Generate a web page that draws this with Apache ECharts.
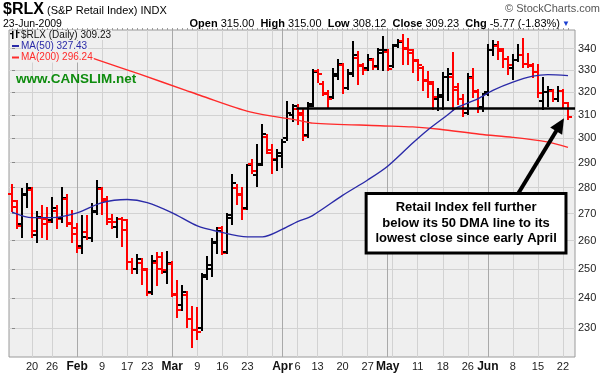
<!DOCTYPE html>
<html><head><meta charset="utf-8">
<script src="https://cdn.jsdelivr.net/npm/echarts@6/dist/echarts.min.js"></script>
<style>html,body{margin:0;padding:0;background:#fff}#c{width:605px;height:375px}</style>
</head><body><div id="c"></div><script>
// ---------- DATA ----------
const dates = [
 '2009-01-13','2009-01-14','2009-01-15','2009-01-16','2009-01-20','2009-01-21','2009-01-22','2009-01-23','2009-01-26','2009-01-27',
 '2009-01-28','2009-01-29','2009-01-30','2009-02-02','2009-02-03','2009-02-04','2009-02-05','2009-02-06','2009-02-09','2009-02-10',
 '2009-02-11','2009-02-12','2009-02-13','2009-02-17','2009-02-18','2009-02-19','2009-02-20','2009-02-23','2009-02-24','2009-02-25',
 '2009-02-26','2009-02-27','2009-03-02','2009-03-03','2009-03-04','2009-03-05','2009-03-06','2009-03-09','2009-03-10','2009-03-11',
 '2009-03-12','2009-03-13','2009-03-16','2009-03-17','2009-03-18','2009-03-19','2009-03-20','2009-03-23','2009-03-24','2009-03-25',
 '2009-03-26','2009-03-27','2009-03-30','2009-03-31','2009-04-01','2009-04-02','2009-04-03','2009-04-06','2009-04-07','2009-04-08',
 '2009-04-09','2009-04-13','2009-04-14','2009-04-15','2009-04-16','2009-04-17','2009-04-20','2009-04-21','2009-04-22','2009-04-23',
 '2009-04-24','2009-04-27','2009-04-28','2009-04-29','2009-04-30','2009-05-01','2009-05-04','2009-05-05','2009-05-06','2009-05-07',
 '2009-05-08','2009-05-11','2009-05-12','2009-05-13','2009-05-14','2009-05-15','2009-05-18','2009-05-19','2009-05-20','2009-05-21',
 '2009-05-22','2009-05-26','2009-05-27','2009-05-28','2009-05-29','2009-06-01','2009-06-02','2009-06-03','2009-06-04','2009-06-05',
 '2009-06-08','2009-06-09','2009-06-10','2009-06-11','2009-06-12','2009-06-15','2009-06-16','2009-06-17','2009-06-18','2009-06-19',
 '2009-06-22','2009-06-23'
];
const opens = [
 277.6,272.5,266.0,277.0,279.0,262.0,268.5,266.0,267.5,271.0,
 268.5,275.5,266.5,262.5,258.0,263.0,261.0,271.0,279.5,275.0,
 267.0,265.0,268.0,264.0,252.5,250.0,252.0,249.5,242.0,252.0,
 254.0,249.0,251.5,241.0,237.5,241.0,233.0,229.5,230.0,248.0,
 250.0,259.0,264.5,256.0,268.5,280.0,277.0,272.0,289.5,285.0,
 289.5,300.5,294.0,291.0,292.5,300.0,310.0,312.5,310.0,301.5,
 314.5,329.5,323.5,319.0,318.0,327.5,332.5,322.0,328.5,335.5,
 332.0,331.0,334.5,332.0,338.0,338.5,332.0,341.5,343.5,340.5,
 338.0,334.0,331.0,325.0,323.5,317.0,318.0,327.0,327.0,321.0,
 317.0,311.0,326.5,320.0,313.5,320.0,339.5,341.5,339.0,335.0,
 331.0,334.5,337.0,333.0,332.0,329.0,316.0,320.0,320.5,317.0,
 320.5,315.0
];
const highs = [
 281.1,275.0,279.5,281.5,280.0,270.5,272.8,272.0,276.0,273.0,
 280.0,277.3,271.0,266.0,269.3,269.0,273.5,282.5,280.0,276.5,
 269.5,268.5,268.5,267.5,253.5,255.0,253.4,250.0,254.6,255.5,
 255.5,256.0,252.5,245.8,244.2,242.0,237.0,236.5,248.3,254.0,
 260.5,264.5,265.0,270.0,285.0,281.1,279.9,289.1,291.1,297.0,
 305.6,301.4,297.2,295.2,299.3,315.6,314.2,314.2,312.0,315.0,
 329.9,330.0,324.5,320.5,330.6,334.5,333.0,329.9,343.1,338.4,
 333.0,336.8,335.0,340.0,345.8,339.2,341.9,344.0,346.8,344.8,
 339.2,334.5,331.4,329.1,324.5,321.5,328.5,330.6,337.8,323.5,
 318.5,328.0,330.5,320.8,319.3,341.6,343.6,343.0,340.0,336.0,
 336.8,341.6,344.8,337.6,333.0,332.2,326.2,322.5,321.0,322.3,
 320.8,315.0
];
const lows = [
 271.0,264.5,261.5,272.5,261.5,259.5,261.5,260.5,266.7,264.5,
 267.0,265.5,259.5,256.0,255.7,260.5,260.0,270.0,270.0,266.0,
 264.5,261.5,258.0,250.0,248.5,248.5,244.8,241.0,241.4,244.5,
 248.5,245.0,240.5,233.7,236.0,230.5,224.0,226.5,229.5,246.5,
 247.5,255.5,255.2,255.6,266.0,273.5,267.9,271.6,285.7,280.7,
 289.0,293.8,285.8,287.1,288.3,299.3,307.3,306.0,299.3,300.5,
 314.0,324.5,318.5,313.5,317.5,326.0,319.7,321.5,327.5,323.6,
 328.4,330.0,330.6,330.6,329.9,329.9,331.5,340.8,332.9,332.9,
 329.1,325.3,320.8,317.8,312.7,312.0,312.5,316.3,312.0,314.5,
 309.5,310.5,318.0,311.3,311.5,318.6,337.0,335.3,331.4,328.3,
 326.0,334.0,331.4,331.4,326.8,317.8,312.5,314.0,316.0,316.0,
 313.5,308.12
];
const closes = [
 274.7,265.5,277.5,280.0,263.5,268.8,268.0,266.7,272.0,268.0,
 276.0,266.0,264.5,257.5,261.5,260.8,270.5,280.0,275.5,268.0,
 266.7,268.0,267.5,252.5,250.0,253.4,250.0,241.8,252.8,250.0,
 249.6,252.0,241.4,236.0,242.0,233.2,229.5,229.0,247.3,251.2,
 259.7,263.6,255.6,269.5,282.0,277.7,271.6,289.0,286.7,289.1,
 302.0,295.2,291.5,293.8,298.3,310.6,313.8,310.6,300.9,314.0,
 329.3,328.3,319.7,317.0,328.0,333.0,322.0,328.0,336.8,332.2,
 329.9,335.3,331.6,339.2,339.5,330.6,341.6,343.0,340.0,339.2,
 334.5,332.2,325.3,324.5,317.8,318.5,327.0,328.0,322.1,317.0,
 312.5,327.0,320.5,313.5,319.0,339.2,341.6,340.0,335.3,332.2,
 334.5,336.8,333.0,332.5,329.1,319.5,320.0,321.0,317.0,320.5,
 315.0,309.23
];
// moving averages: [bar index, value]
const ma50 = [[0,270.6],[4,268.5],[8,268.5],[13,270.3],[18,274.2],[23,275.4],[27,274.2],[32,270.3],[37,265.4],[41,263.4],
 [47,261.4],[50,261.4],[54,264.2],[57,267.0],[60,269.3],[66,277.0],[71,283.0],[75,288.5],[80,298.0],[83,303.5],
 [87,310.0],[89,313.3],[93,317.0],[96,320.8],[100,324.5],[104,327.2],[107,327.9],[111,327.43]];
const ma200 = [[16.2,335.4],[25.5,328.1],[34.7,320.8],[37.5,318.6],[47.5,311.3],[57.5,307.5],[60,306.4],[73.5,305.3],
 [80,304.8],[85.4,303.8],[93.4,301.7],[100,300.4],[106.8,298.5],[111,296.24]];
const yTicks = [230,240,250,260,270,280,290,300,310,320,330,340];
const monthNames = ['Jan','Feb','Mar','Apr','May','Jun','Jul','Aug','Sep','Oct','Nov','Dec'];
const supportLevel = 312.9, supportStart = 56.8;
const noteLines = ['Retail Index fell further','below its 50 DMA line to its','lowest close since early April'];
const noteBox = {i0:70.7, v0:277.7, i1:110.6, v1:255.6};
const arrowFrom = [101.06, 277.7], arrowTo = [110.2, 308.5];

// ---------- BUILD ----------
const FONT = '"Liberation Sans", Arial, sans-serif';
const T = v => Math.log(v);
const parsed = dates.map(s => { const p = s.split('-').map(Number); return new Date(Date.UTC(p[0], p[1]-1, p[2])); });
const weekIdx = [], monthIdx = [], labelIdx = [], labelText = {};
parsed.forEach((dt, i) => {
  if (i === 0) return;
  const prev = parsed[i-1];
  const nm = dt.getUTCMonth() !== prev.getUTCMonth();
  const nw = dt.getUTCDay() < prev.getUTCDay() || (dt - prev) >= 7*864e5;
  if (nm) monthIdx.push(i);
  if (nw) weekIdx.push(i);
});
parsed.forEach((dt, i) => {
  if (monthIdx.includes(i)) { labelIdx.push(i); labelText[i] = '{m|' + monthNames[dt.getUTCMonth()] + '}'; }
  else if (weekIdx.includes(i) && !monthIdx.some(m => Math.abs(m - i) <= 2)) { labelIdx.push(i); labelText[i] = String(dt.getUTCDate()); }
});
const allIdx = dates.map((d, i) => i);
const ohlc = dates.map((d, i) => {
  const prev = i > 0 ? closes[i-1] : opens[i];
  return [i, T(opens[i]), T(highs[i]), T(lows[i]), T(closes[i]), closes[i] < prev ? 1 : 0];
});
const XMIN = -0.6, XMAX = 112.4;

function renderItem(params, api) {
  const i = api.value(0);
  const pH = api.coord([i, api.value(2)]);
  const pL = api.coord([i, api.value(3)]);
  const yO = Math.round(api.coord([i, api.value(1)])[1]);
  const yC = Math.round(api.coord([i, api.value(4)])[1]);
  const x = Math.round(pH[0]);
  const st = {stroke: api.value(5) ? '#ff0000' : '#000000', lineWidth: 2, lineCap: 'butt'};
  return {type: 'group', children: [
    {type: 'line', shape: {x1: x, y1: Math.round(pH[1]) - 1, x2: x, y2: Math.round(pL[1]) + 1}, style: st},
    {type: 'line', shape: {x1: x - 4, y1: yO, x2: x, y2: yO}, style: st},
    {type: 'line', shape: {x1: x, y1: yC, x2: x + 4, y2: yC}, style: st}
  ]};
}

const chart = echarts.init(document.getElementById('c'), null, {renderer: 'canvas'});
const hidden = {show: false};
chart.setOption({
  animation: false,
  backgroundColor: '#ffffff',
  grid: {left: 9, right: 30, top: 30, bottom: 18, show: true, backgroundColor: '#efefef', borderColor: '#9a9a9a', borderWidth: 1},
  xAxis: [
    {type: 'value', min: XMIN, max: XMAX, axisLine: hidden,
     axisTick: {show: false, customValues: weekIdx},
     splitLine: {show: true, lineStyle: {color: '#d2d2d2', width: 1}},
     axisLabel: {customValues: labelIdx, formatter: v => labelText[Math.round(v)] || '', fontFamily: FONT, fontSize: 11, color: '#222', margin: 4,
       rich: {m: {fontWeight: 'bold', fontSize: 12, fontFamily: FONT, color: '#111'}}}},
    {type: 'value', min: XMIN, max: XMAX, axisLine: hidden, axisLabel: hidden,
     axisTick: {show: false, customValues: monthIdx},
     splitLine: {show: true, lineStyle: {color: '#a9a9a9', width: 1}}},
    {type: 'value', min: XMIN, max: XMAX, axisLine: hidden, axisLabel: hidden, splitLine: hidden,
     axisTick: {show: true, customValues: allIdx, length: 2, lineStyle: {color: '#9a9a9a'}}}
  ],
  yAxis: {type: 'value', position: 'right', min: T(221), max: T(349), axisLine: hidden,
    axisTick: {show: true, length: 3, customValues: yTicks.map(T), lineStyle: {color: '#888'}},
    splitLine: {show: true, lineStyle: {color: '#d2d2d2', width: 1}},
    axisLabel: {customValues: yTicks.map(T), formatter: v => String(Math.round(Math.exp(v))), fontFamily: FONT, fontSize: 11, color: '#222', margin: 3}},
  series: [
    {type: 'custom', name: '$RLX (Daily)', renderItem: renderItem, data: ohlc, encode: {x: 0, y: [1, 2, 3, 4]}, z: 3},
    {type: 'line', name: 'MA(200)', data: ma200.map(p => [p[0], T(p[1])]), showSymbol: false, symbol: 'none', smooth: 0.3,
     lineStyle: {color: '#ff2a2a', width: 1.4}, z: 4},
    {type: 'line', name: 'MA(50)', data: ma50.map(p => [p[0], T(p[1])]), showSymbol: false, symbol: 'none', smooth: 0.3,
     lineStyle: {color: '#2a2aa8', width: 1.4}, z: 4,
     markLine: {silent: true, symbol: 'none', label: hidden, lineStyle: {color: '#000', width: 2.6, type: 'solid'},
       data: [[{coord: [supportStart, T(supportLevel)]}, {coord: [XMAX, T(supportLevel)]}]]}}
  ]
});

// ---------- ANNOTATIONS / HEADER ----------
const px = (i, v) => chart.convertToPixel({xAxisIndex: 0, yAxisIndex: 0}, [i, T(v)]);
const b0 = px(noteBox.i0, noteBox.v0), b1 = px(noteBox.i1, noteBox.v1);
const a0 = px(arrowFrom[0], arrowFrom[1]), a1 = px(arrowTo[0], arrowTo[1]);
const dx = a1[0] - a0[0], dy = a1[1] - a0[1], len = Math.hypot(dx, dy), ux = dx / len, uy = dy / len;
const headL = 15, headW = 7;
const hb = [a1[0] - ux * headL, a1[1] - uy * headL];
const cx = (b0[0] + b1[0]) / 2, cy = (b0[1] + b1[1]) / 2;
const txt = (x, y, text, font, fill, align, extra) => Object.assign({type: 'text', x: x, y: y, z: 100,
  style: Object.assign({text: text, font: font, fill: fill, align: align || 'left', verticalAlign: 'middle',
    textAlign: align || 'left', textVerticalAlign: 'middle'}, extra || {})});
const legBg = {backgroundColor: '#efefef', padding: [0, 1, 0, 0]};
const graphics = [
  txt(3, 10, '$RLX', 'bold 16px ' + FONT, '#000'),
  txt(47, 11, '(S&P Retail Index) INDX', '11px ' + FONT, '#000'),
  txt(3, 24, '23-Jun-2009', '10.5px ' + FONT, '#000'),
  txt(560, 24, '{b|Open} 315.00  {b|High} 315.00  {b|Low} 308.12  {b|Close} 309.23  {b|Chg} -5.77 (-1.83%)', '11px ' + FONT, '#000', 'right',
      {rich: {b: {fontWeight: 'bold', fontSize: 11, fontFamily: FONT, fill: '#000'}}}),
  txt(562, 24, '\u25BC', '8px ' + FONT, '#1a3fd0'),
  txt(600, 9, '\u00A9 StockCharts.com', '11px ' + FONT, '#555', 'right'),
  // legend
  {type: 'group', z: 100, children: [
    {type: 'rect', shape: {x: 12, y: 31, width: 1.5, height: 8}, style: {fill: '#000'}},
    {type: 'rect', shape: {x: 10, y: 33, width: 2, height: 1.3}, style: {fill: '#000'}},
    {type: 'rect', shape: {x: 16, y: 30, width: 1.5, height: 8}, style: {fill: '#000'}},
    {type: 'rect', shape: {x: 17.5, y: 32, width: 2, height: 1.3}, style: {fill: '#000'}},
    {type: 'rect', shape: {x: 12, y: 45, width: 7, height: 2}, style: {fill: '#2a2aa8'}},
    {type: 'rect', shape: {x: 12, y: 56.5, width: 7, height: 2}, style: {fill: '#ff2a2a'}}
  ]},
  txt(21, 35, '$RLX (Daily) 309.23', '10px ' + FONT, '#111', 'left', legBg),
  txt(21, 46, 'MA(50) 327.43', '10px ' + FONT, '#2a2aa8', 'left', legBg),
  txt(21, 57.5, 'MA(200) 296.24', '10px ' + FONT, '#ff2a2a', 'left', legBg),
  txt(16, 79, 'www.CANSLIM.net', 'bold 13.5px ' + FONT, '#0e8c0e'),
  // note
  {type: 'line', z: 90, shape: {x1: a0[0], y1: a0[1], x2: hb[0] + ux, y2: hb[1] + uy}, style: {stroke: '#000', lineWidth: 4}},
  {type: 'polygon', z: 90, shape: {points: [a1, [hb[0] - uy * headW, hb[1] + ux * headW], [hb[0] + uy * headW, hb[1] - ux * headW]]}, style: {fill: '#000'}},
  {type: 'rect', z: 95, shape: {x: b0[0], y: b0[1], width: b1[0] - b0[0], height: b1[1] - b0[1]}, style: {fill: '#fff', stroke: '#000', lineWidth: 3}},
  txt(cx, cy - 15.5, noteLines[0], 'bold 13px ' + FONT, '#000', 'center'),
  txt(cx, cy, noteLines[1], 'bold 13px ' + FONT, '#000', 'center'),
  txt(cx, cy + 15.5, noteLines[2], 'bold 13px ' + FONT, '#000', 'center')
];
chart.setOption({graphic: graphics});
</script></body></html>
